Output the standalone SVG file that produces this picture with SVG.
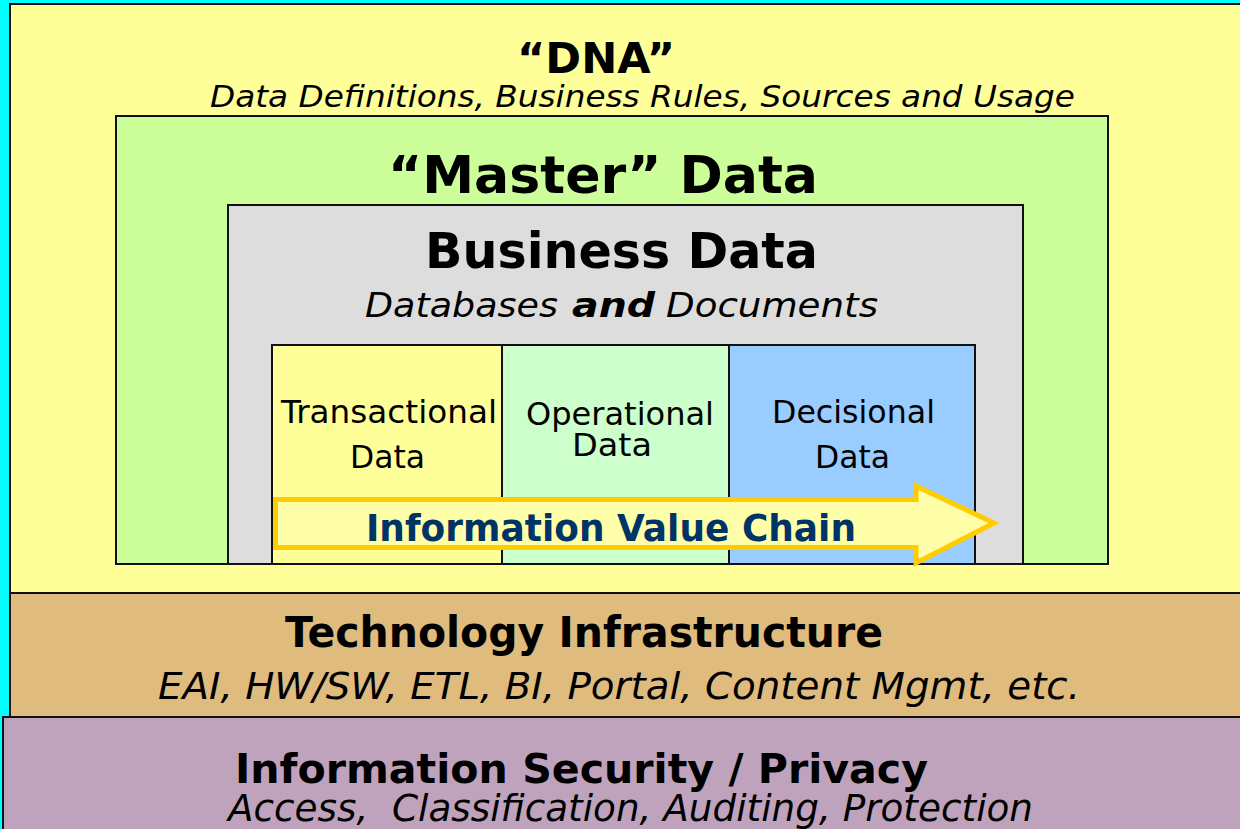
<svg xmlns="http://www.w3.org/2000/svg" width="1240" height="829" viewBox="0 0 1240 829">
<style>
.box{stroke:#111;stroke-width:2}
.t{font-family:"DejaVu Sans","Liberation Sans",sans-serif;fill:#000}
.b{font-weight:bold}
.i{font-style:italic}
</style>
<rect x="0" y="0" width="1240" height="829" fill="#00FFFF"/>
<g id="dna">
<rect class="box" x="10" y="4" width="1240" height="589" fill="#FFFF99"/>
<text class="t b" x="517" y="73" font-size="42" textLength="158" lengthAdjust="spacingAndGlyphs">“DNA”</text>
<text class="t i" x="210" y="107" font-size="30" textLength="865" lengthAdjust="spacingAndGlyphs">Data Definitions, Business Rules, Sources and Usage</text>
</g>
<g id="master">
<rect class="box" x="116" y="116" width="992" height="448" fill="#CCFF99"/>
<text class="t b" x="388" y="193" font-size="52" textLength="430" lengthAdjust="spacingAndGlyphs">“Master” Data</text>
</g>
<g id="business">
<rect class="box" x="228" y="205" width="795" height="359" fill="#DDDDDD"/>
<text class="t b" x="425" y="268" font-size="50" textLength="393" lengthAdjust="spacingAndGlyphs">Business Data</text>
<text class="t i" y="317" font-size="34"><tspan x="365" textLength="193" lengthAdjust="spacingAndGlyphs">Databases</tspan><tspan class="b" x="572" textLength="83" lengthAdjust="spacingAndGlyphs">and</tspan><tspan x="666" textLength="212" lengthAdjust="spacingAndGlyphs">Documents</tspan></text>
</g>
<g id="transactional">
<rect class="box" x="272" y="345" width="230" height="219" fill="#FFFF99"/>
<text class="t" x="281" y="423" font-size="32" textLength="216" lengthAdjust="spacingAndGlyphs">Transactional</text>
<text class="t" x="350" y="468" font-size="32" textLength="75" lengthAdjust="spacingAndGlyphs">Data</text>
</g>
<g id="operational">
<rect class="box" x="502" y="345" width="227" height="219" fill="#CCFFCC"/>
<text class="t" x="526" y="425" font-size="32" textLength="188" lengthAdjust="spacingAndGlyphs">Operational</text>
<text class="t" x="572" y="456" font-size="32" textLength="80" lengthAdjust="spacingAndGlyphs">Data</text>
</g>
<g id="decisional">
<rect class="box" x="729" y="345" width="246" height="219" fill="#99CCFF"/>
<text class="t" x="772" y="423" font-size="32" textLength="163" lengthAdjust="spacingAndGlyphs">Decisional</text>
<text class="t" x="815" y="468" font-size="32" textLength="75" lengthAdjust="spacingAndGlyphs">Data</text>
</g>
<g id="connectors">
<polygon points="275.5,499.5 916,499.5 916,486 994,523 916,563 916,547.5 275.5,547.5" fill="#FFFFAA" stroke="#FFCC00" stroke-width="5"/>
<text class="t b" x="366" y="541" font-size="38" fill="#003366" style="fill:#003366" textLength="490" lengthAdjust="spacingAndGlyphs">Information Value Chain</text>
</g>
<g id="technology">
<rect class="box" x="10" y="593" width="1240" height="124" fill="#E0BB7E"/>
<text class="t b" x="285" y="647" font-size="42" textLength="598" lengthAdjust="spacingAndGlyphs">Technology Infrastructure</text>
<text class="t i" x="158" y="699" font-size="38" textLength="922" lengthAdjust="spacingAndGlyphs">EAI, HW/SW, ETL, BI, Portal, Content Mgmt, etc.</text>
</g>
<g id="security">
<rect class="box" x="3" y="717" width="1250" height="120" fill="#BFA3BD"/>
<text class="t b" x="235" y="783" font-size="41" textLength="693" lengthAdjust="spacingAndGlyphs">Information Security / Privacy</text>
<text class="t i" x="228" y="821" font-size="38" textLength="805" lengthAdjust="spacingAndGlyphs" xml:space="preserve">Access,  Classification, Auditing, Protection</text>
</g>
</svg>
